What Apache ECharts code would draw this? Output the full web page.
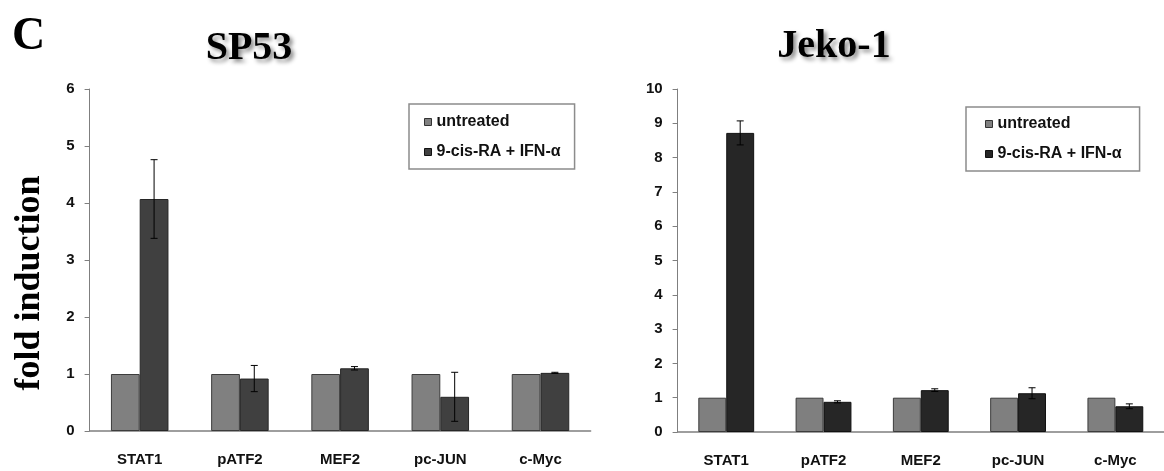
<!DOCTYPE html>
<html>
<head>
<meta charset="utf-8">
<script src="https://cdn.jsdelivr.net/npm/echarts@6/dist/echarts.min.js"></script>
<style>
  html, body { margin: 0; padding: 0; background: #fff; }
  #chart { width: 1164px; height: 471px; }
</style>
</head>
<body>
<div id="chart"></div>
<script>
  var categories = ['STAT1', 'pATF2', 'MEF2', 'pc-JUN', 'c-Myc'];
  var seriesNames = ['untreated', '9-cis-RA + IFN-α'];

  // SP53 panel
  var sp53Untreated = [1, 1, 1, 1, 1];
  var sp53Treated = [4.07, 0.92, 1.10, 0.60, 1.02];
  var sp53Err = [0.69, 0.23, 0.03, 0.43, 0.01];

  // Jeko-1 panel
  var jekoUntreated = [1, 1, 1, 1, 1];
  var jekoTreated = [8.72, 0.88, 1.22, 1.13, 0.75];
  var jekoErr = [0.35, 0.03, 0.04, 0.16, 0.07];

  var sp53Ticks = { min: 0, max: 6, interval: 1 };
  var jekoTicks = { min: 0, max: 10, interval: 1 };

  var narrow = "'Liberation Sans Narrow', 'Arial Narrow', 'Liberation Sans', Arial, sans-serif";
  var sans = "'Liberation Sans', Arial, sans-serif";
  var serif = "'Liberation Serif', 'Times New Roman', serif";
  var BAR_FRAC = 0.287;

  function errData(vals, errs) {
    return vals.map(function (v, i) { return [i, v - errs[i], v + errs[i]]; });
  }

  function errRender(params, api) {
    var idx = api.value(0);
    var top = api.coord([idx, api.value(2)]);
    var bot = api.coord([idx, api.value(1)]);
    var band = api.size([1, 0])[0];
    var x = top[0] + band * BAR_FRAC / 2;
    var style = { stroke: '#000', lineWidth: 1 };
    return {
      type: 'group',
      children: [
        { type: 'line', shape: { x1: x, y1: top[1], x2: x, y2: bot[1] }, style: style },
        { type: 'line', shape: { x1: x - 3.5, y1: top[1], x2: x + 3.5, y2: top[1] }, style: style },
        { type: 'line', shape: { x1: x - 3.5, y1: bot[1], x2: x + 3.5, y2: bot[1] }, style: style }
      ]
    };
  }

  function yAxis(idx, ticks, name) {
    return {
      type: 'value',
      gridIndex: idx,
      min: ticks.min,
      max: ticks.max,
      interval: ticks.interval,
      name: name,
      nameLocation: 'middle',
      nameRotate: 90,
      nameGap: 42,
      // right padding pushes the rotated label down the axis
      nameTextStyle: { fontFamily: serif, fontWeight: 'bold', fontSize: 36, color: '#000', padding: [0, 46, 0, 0] },
      splitLine: { show: false },
      axisLine: { show: true, lineStyle: { color: '#7f7f7f', width: 1 } },
      axisTick: { show: true, inside: false, length: 5, lineStyle: { color: '#7f7f7f' } },
      axisLabel: { margin: 15, fontFamily: narrow, fontWeight: 'bold', fontSize: 15, color: '#111' }
    };
  }

  function xAxis(idx) {
    return {
      type: 'category',
      gridIndex: idx,
      data: categories,
      boundaryGap: true,
      axisLine: { lineStyle: { color: '#7f7f7f', width: 1.5 } },
      axisTick: { show: false },
      axisLabel: { margin: 21, interval: 0, fontFamily: narrow, fontWeight: 'bold', fontSize: 15, color: '#111' }
    };
  }

  function legend(left, top, dark, padding) {
    return {
      orient: 'vertical',
      left: left,
      top: top,
      padding: padding,
      borderColor: '#8c8c8c',
      borderWidth: 1.5,
      itemWidth: 7,
      itemHeight: 7,
      itemGap: 12,
      icon: 'rect',
      selectedMode: false,
      textStyle: { fontFamily: sans, fontWeight: 'bold', fontSize: 16, lineHeight: 18, color: '#111' },
      data: [
        { name: seriesNames[0], itemStyle: { color: '#808080', borderColor: '#333', borderWidth: 1 } },
        { name: seriesNames[1], itemStyle: { color: dark, borderColor: '#111', borderWidth: 1 } }
      ]
    };
  }

  var chart = echarts.init(document.getElementById('chart'));
  var shadow = { textShadowColor: 'rgba(0,0,0,0.45)', textShadowBlur: 4, textShadowOffsetX: 3, textShadowOffsetY: 3 };

  chart.setOption({
    animation: false,
    title: [
      { text: 'C', left: 7, top: 9, textStyle: { fontFamily: serif, fontWeight: 'bold', fontSize: 46, color: '#000' } },
      { text: 'SP53', left: 244, top: 24, textAlign: 'center', textStyle: Object.assign({ fontFamily: serif, fontWeight: 'bold', fontSize: 40, color: '#000' }, shadow) },
      { text: 'Jeko-1', left: 829, top: 22, textAlign: 'center', textStyle: Object.assign({ fontFamily: serif, fontWeight: 'bold', fontSize: 40, color: '#000' }, shadow) }
    ],
    legend: [
      legend(409, 104, '#404040', [9, 14, 8, 15]),
      legend(966, 107, '#262626', [8, 18, 8, 19])
    ],
    grid: [
      { left: 89.6, top: 89, width: 501, height: 342 },
      { left: 677.6, top: 89, width: 490, height: 343 }
    ],
    xAxis: [xAxis(0), xAxis(1)],
    yAxis: [yAxis(0, sp53Ticks, 'fold induction'), yAxis(1, jekoTicks, '')],
    series: [
      {
        name: seriesNames[0], type: 'bar', xAxisIndex: 0, yAxisIndex: 0,
        barWidth: (BAR_FRAC * 100) + '%', barGap: '0%', data: sp53Untreated,
        itemStyle: { color: '#808080', borderColor: '#3c3c3c', borderWidth: 1 }
      },
      {
        name: seriesNames[1], type: 'bar', xAxisIndex: 0, yAxisIndex: 0,
        barWidth: (BAR_FRAC * 100) + '%', barGap: '0%', data: sp53Treated,
        itemStyle: { color: '#404040', borderColor: '#262626', borderWidth: 1 }
      },
      {
        type: 'custom', xAxisIndex: 0, yAxisIndex: 0, z: 10,
        renderItem: errRender, data: errData(sp53Treated, sp53Err)
      },
      {
        name: seriesNames[0], type: 'bar', xAxisIndex: 1, yAxisIndex: 1,
        barWidth: (BAR_FRAC * 100) + '%', barGap: '0%', data: jekoUntreated,
        itemStyle: { color: '#7f7f7f', borderColor: '#3c3c3c', borderWidth: 1 }
      },
      {
        name: seriesNames[1], type: 'bar', xAxisIndex: 1, yAxisIndex: 1,
        barWidth: (BAR_FRAC * 100) + '%', barGap: '0%', data: jekoTreated,
        itemStyle: { color: '#262626', borderColor: '#111', borderWidth: 1 }
      },
      {
        type: 'custom', xAxisIndex: 1, yAxisIndex: 1, z: 10,
        renderItem: errRender, data: errData(jekoTreated, jekoErr)
      }
    ]
  });
</script>
</body>
</html>
